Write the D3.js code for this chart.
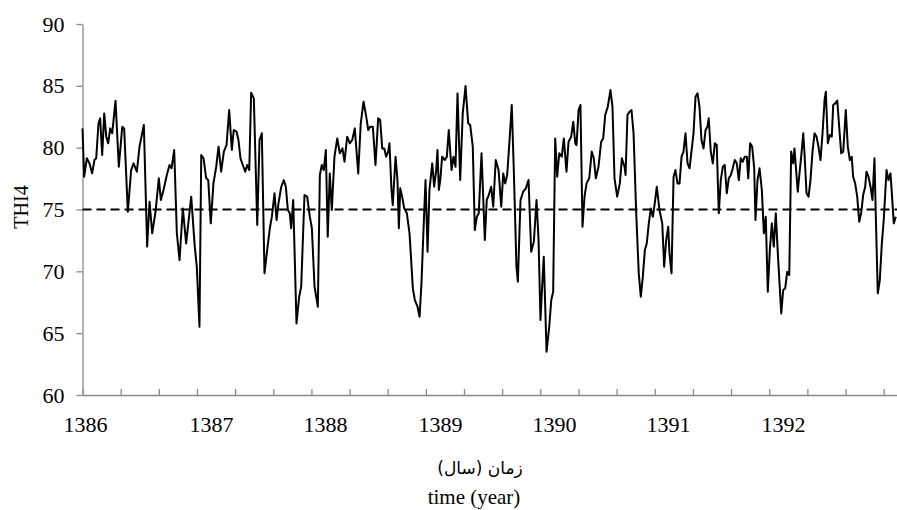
<!DOCTYPE html>
<html lang="en">
<head>
<meta charset="utf-8">
<title>THI4</title>
<script type="text/javascript" src="https://d3js.org/d3.v7.min.js"></script>
<style>
  body { margin: 0; background: #fff; }
  text { font-family: "Liberation Serif", "Times New Roman", serif; fill: #000; }
  .fa { font-family: "DejaVu Sans", "Noto Sans", sans-serif; }
</style>
</head>
<body>
<div id="chart"></div>
<script type="text/javascript">

var w = 897;
var h = 510;

// x axis labels and where they sit on the time index
var yearLabels = [1386, 1387, 1388, 1389, 1390, 1391, 1392];
var yearLabelAt = [0.020, 1.012, 1.909, 2.815, 3.713, 4.610, 5.516];
var tickStep = 0.3004;
var yTicks = [60, 65, 70, 75, 80, 85, 90];
var threshold = 75;

// time index of each reading
var t = [
  0.000, 0.013, 0.034, 0.055, 0.076, 0.094, 0.108, 0.126, 0.139, 0.155, 0.171, 0.187, 0.202, 0.218, 0.234, 0.260,
  0.286, 0.313, 0.328, 0.357, 0.383, 0.402, 0.428, 0.449, 0.483, 0.509, 0.528, 0.549, 0.575, 0.601, 0.617, 0.638,
  0.664, 0.685, 0.701, 0.722, 0.743, 0.764, 0.790, 0.816, 0.856, 0.884, 0.900, 0.921, 0.935, 0.953, 0.974, 0.990,
  1.010, 1.031, 1.053,
  1.071, 1.092, 1.113, 1.134, 1.155, 1.176, 1.191, 1.213, 1.228, 1.244, 1.262, 1.281, 1.297, 1.313, 1.328, 1.349,
  1.376, 1.394, 1.412, 1.433, 1.454, 1.475, 1.491, 1.512, 1.528, 1.543, 1.565, 1.585, 1.601, 1.617, 1.632, 1.643,
  1.659, 1.685, 1.706, 1.722, 1.748, 1.769, 1.790, 1.806, 1.827, 1.853, 1.869, 1.884, 1.900, 1.916, 1.931, 1.947,
  1.963, 1.984, 2.006, 2.026, 2.047, 2.063, 2.084, 2.105,
  2.124, 2.144, 2.171, 2.191, 2.213, 2.234, 2.250, 2.265, 2.286, 2.307, 2.328, 2.344, 2.360, 2.376, 2.391, 2.407,
  2.417, 2.433, 2.443, 2.465, 2.480, 2.491, 2.502, 2.517, 2.533, 2.554, 2.575, 2.591, 2.601, 2.617, 2.638, 2.654,
  2.669, 2.685, 2.701, 2.717, 2.732, 2.754, 2.769, 2.785, 2.795, 2.806, 2.817, 2.832, 2.853, 2.869, 2.884, 2.906,
  2.921, 2.937, 2.953, 2.974, 2.994, 3.016, 3.037, 3.053, 3.073, 3.089, 3.105, 3.120, 3.142, 3.168, 3.183, 3.199,
  3.218, 3.234, 3.254, 3.276, 3.297, 3.313, 3.328, 3.344, 3.360, 3.380, 3.396, 3.417, 3.428, 3.449, 3.470, 3.491,
  3.512, 3.533, 3.554, 3.575, 3.591, 3.606, 3.622, 3.632, 3.654, 3.675, 3.691, 3.706, 3.722, 3.738, 3.754, 3.774,
  3.790, 3.811, 3.827, 3.848, 3.864, 3.880, 3.890, 3.906, 3.921, 3.937, 3.953, 3.969, 3.990, 4.010, 4.026, 4.042,
  4.063, 4.084, 4.100, 4.116, 4.136, 4.157, 4.173, 4.189, 4.210, 4.231, 4.247, 4.268,
  4.276, 4.291, 4.307, 4.323, 4.339, 4.360, 4.380, 4.396, 4.412, 4.428, 4.443, 4.459, 4.475, 4.491, 4.506, 4.522,
  4.543, 4.565, 4.580, 4.596, 4.612, 4.622, 4.638, 4.654, 4.669, 4.685, 4.701, 4.717, 4.732, 4.748, 4.764, 4.780,
  4.795, 4.811, 4.827, 4.843, 4.858, 4.874, 4.890, 4.906, 4.921, 4.931, 4.947, 4.963, 4.979, 4.994, 5.010, 5.026,
  5.042, 5.057, 5.073, 5.089, 5.105, 5.120, 5.136, 5.152, 5.168, 5.183, 5.199, 5.215, 5.231, 5.242, 5.257, 5.273,
  5.289, 5.299, 5.315, 5.331,
  5.349, 5.365, 5.380, 5.396, 5.412, 5.428, 5.443, 5.459, 5.475, 5.502, 5.517, 5.533, 5.549, 5.565, 5.580, 5.596,
  5.606, 5.617, 5.632, 5.648, 5.659, 5.675, 5.685, 5.701, 5.717, 5.732, 5.748, 5.764, 5.780, 5.795, 5.811, 5.827,
  5.843, 5.853, 5.869, 5.884, 5.900, 5.911, 5.927, 5.943, 5.958, 5.974, 5.990, 6.010, 6.026, 6.042, 6.057, 6.068,
  6.084, 6.100, 6.116, 6.131, 6.147, 6.163, 6.173, 6.189, 6.205, 6.220, 6.236, 6.246, 6.262, 6.278, 6.294, 6.309,
  6.331, 6.346, 6.362, 6.372, 6.388, 6.404
];

// THI4 readings
var thi4 = [
  81.56, 77.65, 79.14, 78.73, 77.92, 79.00, 79.14, 81.97, 82.37, 79.41, 82.77, 80.89, 80.35, 81.56, 81.16, 83.80,
  78.46, 81.70, 81.56, 74.82, 78.19, 78.73, 78.06, 80.08, 81.83, 72.00, 75.63, 73.07, 74.82, 77.52, 75.77, 76.58,
  77.79, 78.60, 78.33, 79.81, 73.07, 70.91, 75.09, 72.26, 76.04, 72.00, 70.38, 65.52, 79.41, 79.14, 77.52, 77.38,
  73.88, 77.11, 78.46,
  80.08, 78.06, 79.68, 80.21, 83.04, 79.81, 81.43, 81.29, 80.62, 79.14, 78.60, 78.06, 78.60, 78.19, 84.45, 83.99,
  73.74, 80.62, 81.16, 69.84, 71.72, 73.48, 74.42, 76.31, 74.15, 75.50, 76.84, 77.38, 76.84, 74.96, 74.69, 73.48,
  75.77, 65.79, 67.95, 68.76, 76.17, 76.04, 74.42, 73.48, 68.76, 67.14, 77.79, 78.60, 78.19, 79.81, 72.80, 77.92,
  74.96, 79.27, 80.75, 79.54, 79.94, 78.87, 80.89, 80.35,
  80.62, 81.56, 77.92, 81.97, 83.72, 82.51, 81.43, 81.70, 81.70, 78.60, 82.37, 82.24, 79.94, 79.94, 79.27, 79.68,
  80.35, 76.58, 75.36, 79.27, 77.38, 73.48, 76.71, 76.04, 75.09, 74.69, 73.07, 70.38, 68.62, 67.68, 67.14, 66.33,
  69.03, 73.34, 77.38, 71.59, 76.58, 78.73, 76.84, 78.19, 79.81, 76.58, 77.38, 79.27, 79.00, 79.27, 81.43, 78.19,
  79.27, 78.46, 84.39, 77.38, 82.77, 84.98, 81.97, 81.83, 80.08, 73.34, 74.42, 74.69, 79.54, 72.53, 75.77, 76.17,
  76.84, 75.23, 79.00, 78.19, 75.23, 77.92, 77.11, 77.79, 80.21, 83.45, 78.19, 70.38, 69.16, 75.77, 76.44, 76.71,
  77.38, 71.59, 72.40, 75.77, 72.53, 66.06, 69.30, 71.18, 63.50, 65.52, 67.68, 68.35, 80.75, 77.65, 79.54, 79.27,
  80.75, 78.06, 80.48, 80.89, 82.10, 80.35, 80.21, 83.04, 83.45, 73.61, 76.04, 77.11, 77.52, 79.68, 79.14, 77.52,
  78.46, 80.48, 80.75, 82.64, 83.31, 84.66, 83.31, 77.52, 76.04, 77.11, 79.14, 78.46,
  77.79, 82.64, 82.91, 83.04, 81.16, 74.69, 69.84, 67.95, 69.57, 71.72, 72.26, 73.88, 75.09, 74.42, 75.50, 76.84,
  74.96, 73.88, 70.38, 72.53, 73.61, 71.45, 69.84, 77.65, 78.19, 77.11, 77.11, 79.27, 79.68, 81.16, 78.73, 78.33,
  79.68, 81.16, 84.12, 84.39, 83.31, 80.62, 79.94, 81.43, 81.70, 82.37, 79.68, 78.73, 80.35, 80.21, 74.69, 77.38,
  78.46, 78.60, 76.31, 77.52, 77.79, 78.33, 79.00, 78.73, 77.38, 79.14, 78.87, 79.27, 79.27, 77.52, 80.35, 80.08,
  78.33, 74.15, 77.38, 78.33,
  76.58, 73.07, 74.42, 68.35, 71.72, 73.88, 72.00, 74.69, 71.45, 66.60, 68.49, 68.62, 69.97, 69.70, 79.68, 78.73,
  79.94, 78.46, 76.44, 78.19, 79.27, 81.16, 79.54, 76.31, 76.04, 77.38, 79.68, 81.16, 80.89, 80.08, 79.00, 81.16,
  83.85, 84.53, 80.35, 81.02, 80.89, 83.45, 83.58, 83.80, 81.70, 79.54, 79.68, 83.04, 80.08, 79.00, 79.27, 77.65,
  77.11, 76.04, 74.01, 74.69, 76.17, 76.84, 78.06, 77.65, 76.84, 75.77, 79.14, 74.69, 68.22, 69.30, 72.26, 74.15,
  78.19, 77.38, 77.92, 76.44, 73.88, 74.42
];

var dataset = t.map(function(d, i) { return { t: d, value: thi4[i] }; });

var plotLeft = 82.5, plotRight = 897, plotTop = 24, plotBottom = 395;

var xScale = d3.scaleLinear()
    .domain([0, (plotRight - plotLeft) / 127])
    .range([plotLeft, plotRight]);

var yScale = d3.scaleLinear()
    .domain([60, 90])
    .range([plotBottom, plotTop]);

var svg = d3.select("#chart")
    .append("svg")
    .attr("width", w)
    .attr("height", h);

// small tick marks along the x axis (no labels)
var minorTicks = d3.range(0, 22).map(function(k) { return k * tickStep; });

var xAxis = d3.axisBottom(xScale)
    .tickValues(minorTicks)
    .tickFormat("")
    .tickSizeInner(-6)
    .tickSizeOuter(0);

var xLabels = d3.axisBottom(xScale)
    .tickValues(yearLabelAt)
    .tickFormat(function(d, i) { return yearLabels[i]; })
    .tickSize(0)
    .tickPadding(21);

var yAxis = d3.axisLeft(yScale)
    .tickValues(yTicks)
    .tickSizeInner(6)
    .tickSizeOuter(0)
    .tickPadding(12);

svg.append("g")
    .attr("class", "axis")
    .attr("transform", "translate(0," + plotBottom + ")")
    .call(xAxis);

var gxl = svg.append("g")
    .attr("transform", "translate(0," + plotBottom + ")")
    .call(xLabels);
gxl.select(".domain").remove();

svg.append("g")
    .attr("class", "axis")
    .attr("transform", "translate(" + plotLeft + ",0)")
    .call(yAxis);

svg.selectAll(".axis path, .axis line")
    .attr("stroke", "#8a8a8a")
    .attr("stroke-width", 1.3);

svg.selectAll(".tick text")
    .style("font-family", "'Liberation Serif', 'Times New Roman', serif")
    .style("font-size", "22px")
    .attr("fill", "#000");

// threshold line at 75
svg.append("line")
    .attr("x1", xScale.range()[0])
    .attr("x2", xScale.range()[1])
    .attr("y1", yScale(threshold))
    .attr("y2", yScale(threshold))
    .attr("stroke", "#000")
    .attr("stroke-width", 2)
    .attr("stroke-dasharray", "9,5");

var line = d3.line()
    .x(function(d) { return xScale(d.t); })
    .y(function(d) { return yScale(d.value); });

svg.append("path")
    .datum(dataset)
    .attr("fill", "none")
    .attr("stroke", "#000")
    .attr("stroke-width", 2)
    .attr("stroke-linejoin", "round")
    .attr("d", line);

// axis titles
svg.append("text")
    .attr("transform", "rotate(-90)")
    .attr("x", -207)
    .attr("y", 28)
    .attr("text-anchor", "middle")
    .attr("fill", "#000")
    .style("font-size", "20px")
    .text("THI4");

svg.append("text")
    .attr("class", "fa")
    .attr("x", 480)
    .attr("y", 474)
    .attr("text-anchor", "middle")
    .attr("fill", "#000")
    .style("font-size", "17px")
    .text("زمان (سال)");

svg.append("text")
    .attr("x", 474)
    .attr("y", 504)
    .attr("text-anchor", "middle")
    .attr("fill", "#000")
    .style("font-size", "21px")
    .text("time (year)");

</script>
</body>
</html>
